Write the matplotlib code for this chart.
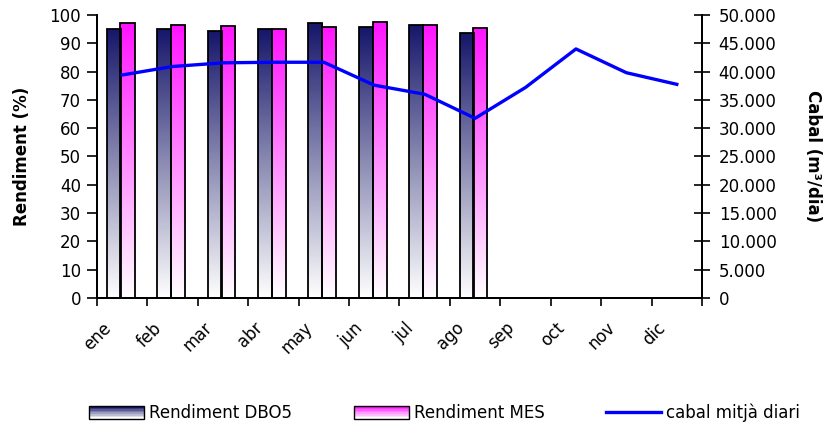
import numpy as np
import matplotlib
matplotlib.use("Agg")
import matplotlib.pyplot as plt
from matplotlib.colors import LinearSegmentedColormap
from matplotlib.patches import Rectangle
from matplotlib.legend_handler import HandlerBase

months = ["ene", "feb", "mar", "abr", "may", "jun", "jul", "ago", "sep", "oct", "nov", "dic"]
rend_dbo5 = [94.9, 94.9, 94.2, 94.9, 97.1, 95.6, 96.5, 93.5]
rend_mes = [97.1, 96.4, 96.2, 94.9, 95.6, 97.6, 96.5, 95.5]
cabal = [39400, 40900, 41550, 41650, 41650, 37600, 36000, 31750, 37200, 44000, 39800, 37750]

plt.rcParams['font.family'] = ['DejaVu Sans']
FS = 12

cmap_dbo = LinearSegmentedColormap.from_list("dbo", ["#ffffff", "#8c8cb4", "#16166b"])
cmap_mes = LinearSegmentedColormap.from_list("mes", ["#ffffff", "#ff8cff", "#ff14ff"])

fig = plt.figure(figsize=(8.29, 4.28), dpi=100)
ax = fig.add_axes([0.117, 0.3037, 0.7298, 0.6613])
ax2 = ax.twinx()

x = np.arange(len(months))
xb = np.arange(len(rend_dbo5))
w = 0.278
grad = np.linspace(1, 0, 256).reshape(-1, 1)

def gradient_bars(xpos, vals, cmap):
    bars = ax.bar(xpos, vals, width=w, facecolor='none', edgecolor='black', linewidth=1.3, zorder=3)
    for b in bars:
        x0, y0 = b.get_x(), b.get_y()
        img = ax.imshow(grad, cmap=cmap, vmin=0, vmax=1, extent=(x0, x0 + b.get_width(), y0, y0 + b.get_height()),
                        aspect='auto', zorder=2, origin='upper', interpolation='bilinear')
        img.set_clip_path(b)
    return bars

b1 = gradient_bars(xb - 0.169, rend_dbo5, cmap_dbo)
b2 = gradient_bars(xb + 0.105, rend_mes, cmap_mes)

ln, = ax2.plot(x, cabal, color='#0000ff', linewidth=2.4, zorder=4)

ax.set_xlim(-0.5, 11.5)
ax.set_ylim(0, 100)
ax2.set_ylim(0, 50000)
ax.set_yticks(np.arange(0, 101, 10))
ax2.set_yticks(np.arange(0, 50001, 5000))
ax2.set_yticklabels(["0"] + [f"{v//1000}.000" for v in range(5000, 50001, 5000)])

ax.set_xticks(np.arange(-0.5, 12, 1))
ax.set_xticklabels([])
ax.set_xticks(x - 0.4, minor=True)
ax.set_xticklabels(months, minor=True, rotation=45, ha='right', va='top', rotation_mode='anchor')
ax.tick_params(axis='x', which='minor', length=0, labelsize=FS, pad=15)
ax.tick_params(axis='x', which='major', direction='out', length=6, width=1.2)
ax.tick_params(axis='y', direction='out', length=7.5, width=1.2, labelsize=FS, pad=4)
ax2.tick_params(axis='y', direction='inout', length=12, width=1.2, labelsize=FS, pad=6)

for a in (ax, ax2):
    a.spines['top'].set_visible(False)
    for s in ('left', 'right', 'bottom'):
        a.spines[s].set_linewidth(1.4)

ax.set_ylabel("Rendiment (%)", fontsize=FS, fontweight='bold', labelpad=13)
ax2.set_ylabel("Cabal (m³/dia)", fontsize=FS, fontweight='bold', rotation=-90, labelpad=33)


class GradHandler(HandlerBase):
    def __init__(self, cmap):
        super().__init__()
        self.cmap = cmap

    def create_artists(self, legend, orig_handle, xdescent, ydescent, width, height, fontsize, trans):
        arts = []
        n = 8
        h = height * 1.1
        y0 = -ydescent + (height - h) / 2
        for k in range(n):
            r = Rectangle((-xdescent, y0 + h * k / n), width, h / n,
                          facecolor=self.cmap(k / (n - 1)), edgecolor='none', transform=trans)
            arts.append(r)
        arts.append(Rectangle((-xdescent, y0), width, h, facecolor='none', edgecolor='black',
                              linewidth=1.0, transform=trans))
        return arts

h1 = Rectangle((0, 0), 1, 1)
h2 = Rectangle((0, 0), 1, 1)
fig.legend([h1, h2, ln], ["Rendiment DBO5", "Rendiment MES", "cabal mitjà diari"],
           handler_map={h1: GradHandler(cmap_dbo), h2: GradHandler(cmap_mes)},
           loc='center', bbox_to_anchor=(0.536, 0.035), ncol=3, frameon=False,
           fontsize=FS, handlelength=3.3, handletextpad=0.3, columnspacing=3.7)

fig.savefig("out.png", dpi=100)
